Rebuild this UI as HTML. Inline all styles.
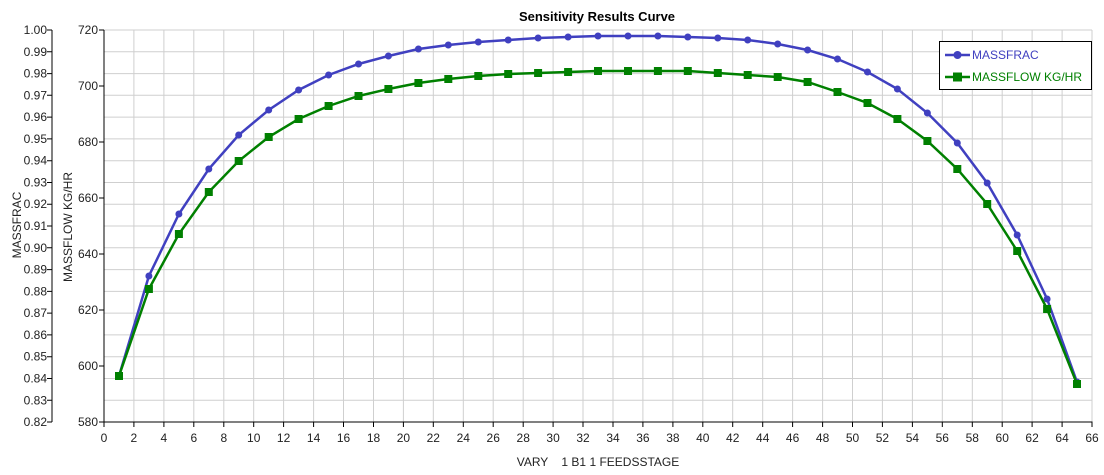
<!DOCTYPE html>
<html><head><meta charset="utf-8"><style>
html,body{margin:0;padding:0;background:#fff;}
svg{display:block;font-family:"Liberation Sans",sans-serif;}
</style></head><body>
<svg width="1104" height="475" viewBox="0 0 1104 475" xmlns="http://www.w3.org/2000/svg">
<rect width="1104" height="475" fill="#fff"/>
<g stroke="#cfcfcf" stroke-width="1">
<line x1="104" y1="30" x2="1092" y2="30"/><line x1="104" y1="51.8" x2="1092" y2="51.8"/><line x1="104" y1="73.6" x2="1092" y2="73.6"/><line x1="104" y1="95.3" x2="1092" y2="95.3"/><line x1="104" y1="117.1" x2="1092" y2="117.1"/><line x1="104" y1="138.9" x2="1092" y2="138.9"/><line x1="104" y1="160.7" x2="1092" y2="160.7"/><line x1="104" y1="182.5" x2="1092" y2="182.5"/><line x1="104" y1="204.2" x2="1092" y2="204.2"/><line x1="104" y1="226" x2="1092" y2="226"/><line x1="104" y1="247.8" x2="1092" y2="247.8"/><line x1="104" y1="269.6" x2="1092" y2="269.6"/><line x1="104" y1="291.4" x2="1092" y2="291.4"/><line x1="104" y1="313.1" x2="1092" y2="313.1"/><line x1="104" y1="334.9" x2="1092" y2="334.9"/><line x1="104" y1="356.7" x2="1092" y2="356.7"/><line x1="104" y1="378.5" x2="1092" y2="378.5"/><line x1="104" y1="400.3" x2="1092" y2="400.3"/>
<line x1="133.9" y1="30" x2="133.9" y2="422"/><line x1="163.9" y1="30" x2="163.9" y2="422"/><line x1="193.8" y1="30" x2="193.8" y2="422"/><line x1="223.8" y1="30" x2="223.8" y2="422"/><line x1="253.7" y1="30" x2="253.7" y2="422"/><line x1="283.6" y1="30" x2="283.6" y2="422"/><line x1="313.6" y1="30" x2="313.6" y2="422"/><line x1="343.5" y1="30" x2="343.5" y2="422"/><line x1="373.5" y1="30" x2="373.5" y2="422"/><line x1="403.4" y1="30" x2="403.4" y2="422"/><line x1="433.3" y1="30" x2="433.3" y2="422"/><line x1="463.3" y1="30" x2="463.3" y2="422"/><line x1="493.2" y1="30" x2="493.2" y2="422"/><line x1="523.2" y1="30" x2="523.2" y2="422"/><line x1="553.1" y1="30" x2="553.1" y2="422"/><line x1="583" y1="30" x2="583" y2="422"/><line x1="613" y1="30" x2="613" y2="422"/><line x1="642.9" y1="30" x2="642.9" y2="422"/><line x1="672.9" y1="30" x2="672.9" y2="422"/><line x1="702.8" y1="30" x2="702.8" y2="422"/><line x1="732.7" y1="30" x2="732.7" y2="422"/><line x1="762.7" y1="30" x2="762.7" y2="422"/><line x1="792.6" y1="30" x2="792.6" y2="422"/><line x1="822.6" y1="30" x2="822.6" y2="422"/><line x1="852.5" y1="30" x2="852.5" y2="422"/><line x1="882.4" y1="30" x2="882.4" y2="422"/><line x1="912.4" y1="30" x2="912.4" y2="422"/><line x1="942.3" y1="30" x2="942.3" y2="422"/><line x1="972.3" y1="30" x2="972.3" y2="422"/><line x1="1002.2" y1="30" x2="1002.2" y2="422"/><line x1="1032.1" y1="30" x2="1032.1" y2="422"/><line x1="1062.1" y1="30" x2="1062.1" y2="422"/><line x1="1092" y1="30" x2="1092" y2="422"/>
</g>
<g stroke="#000" stroke-width="1">
<line x1="104" y1="30" x2="104" y2="422.5"/><line x1="103.5" y1="422" x2="1092.5" y2="422"/>
<line x1="52" y1="30" x2="52" y2="422"/>
</g>
<g stroke="#000" stroke-width="1">
<path d="M47 30H52M47 51.8H52M47 73.6H52M47 95.3H52M47 117.1H52M47 138.9H52M47 160.7H52M47 182.5H52M47 204.2H52M47 226H52M47 247.8H52M47 269.6H52M47 291.4H52M47 313.1H52M47 334.9H52M47 356.7H52M47 378.5H52M47 400.3H52M47 422H52"/>
<path d="M99 30H104M99 86H104M99 142H104M99 198H104M99 254H104M99 310H104M99 366H104M99 422H104"/>
<path d="M104 422V427M133.9 422V427M163.9 422V427M193.8 422V427M223.8 422V427M253.7 422V427M283.6 422V427M313.6 422V427M343.5 422V427M373.5 422V427M403.4 422V427M433.3 422V427M463.3 422V427M493.2 422V427M523.2 422V427M553.1 422V427M583 422V427M613 422V427M642.9 422V427M672.9 422V427M702.8 422V427M732.7 422V427M762.7 422V427M792.6 422V427M822.6 422V427M852.5 422V427M882.4 422V427M912.4 422V427M942.3 422V427M972.3 422V427M1002.2 422V427M1032.1 422V427M1062.1 422V427M1092 422V427"/>
</g>
<g font-size="12" fill="#222" text-anchor="end">
<text x="47" y="34">1.00</text><text x="47" y="55.8">0.99</text><text x="47" y="77.6">0.98</text><text x="47" y="99.3">0.97</text><text x="47" y="121.1">0.96</text><text x="47" y="142.9">0.95</text><text x="47" y="164.7">0.94</text><text x="47" y="186.5">0.93</text><text x="47" y="208.2">0.92</text><text x="47" y="230">0.91</text><text x="47" y="251.8">0.90</text><text x="47" y="273.6">0.89</text><text x="47" y="295.4">0.88</text><text x="47" y="317.1">0.87</text><text x="47" y="338.9">0.86</text><text x="47" y="360.7">0.85</text><text x="47" y="382.5">0.84</text><text x="47" y="404.3">0.83</text><text x="47" y="426">0.82</text>
<text x="98" y="34">720</text><text x="98" y="90">700</text><text x="98" y="146">680</text><text x="98" y="202">660</text><text x="98" y="258">640</text><text x="98" y="314">620</text><text x="98" y="370">600</text><text x="98" y="426">580</text>
</g>
<g font-size="12" fill="#222" text-anchor="middle">
<text x="104" y="442">0</text><text x="133.9" y="442">2</text><text x="163.9" y="442">4</text><text x="193.8" y="442">6</text><text x="223.8" y="442">8</text><text x="253.7" y="442">10</text><text x="283.6" y="442">12</text><text x="313.6" y="442">14</text><text x="343.5" y="442">16</text><text x="373.5" y="442">18</text><text x="403.4" y="442">20</text><text x="433.3" y="442">22</text><text x="463.3" y="442">24</text><text x="493.2" y="442">26</text><text x="523.2" y="442">28</text><text x="553.1" y="442">30</text><text x="583" y="442">32</text><text x="613" y="442">34</text><text x="642.9" y="442">36</text><text x="672.9" y="442">38</text><text x="702.8" y="442">40</text><text x="732.7" y="442">42</text><text x="762.7" y="442">44</text><text x="792.6" y="442">46</text><text x="822.6" y="442">48</text><text x="852.5" y="442">50</text><text x="882.4" y="442">52</text><text x="912.4" y="442">54</text><text x="942.3" y="442">56</text><text x="972.3" y="442">58</text><text x="1002.2" y="442">60</text><text x="1032.1" y="442">62</text><text x="1062.1" y="442">64</text><text x="1092" y="442">66</text>
<text x="598" y="466" xml:space="preserve">VARY    1 B1 1 FEEDSSTAGE</text>
<text x="597" y="21" font-weight="bold" font-size="13" fill="#000">Sensitivity Results Curve</text>
<text transform="translate(21,225) rotate(-90)">MASSFRAC</text>
<text transform="translate(72,227) rotate(-90)">MASSFLOW KG/HR</text>
</g>
<polyline fill="none" stroke="#4040c0" stroke-width="2.5" points="119,376 148.9,276 178.9,214 208.8,169 238.7,135 268.7,110 298.6,90 328.6,75 358.5,64 388.4,56 418.4,49 448.3,45 478.3,42 508.2,40 538.1,38 568.1,37 598,36 628,36 657.9,36 687.8,37 717.8,38 747.7,40 777.7,44 807.6,50 837.5,59 867.5,72 897.4,89 927.4,113 957.3,143 987.2,183 1017.2,235 1047.1,299 1077,382"/>
<g fill="#4040c0">
<circle cx="119" cy="376" r="3.5"/><circle cx="148.9" cy="276" r="3.5"/><circle cx="178.9" cy="214" r="3.5"/><circle cx="208.8" cy="169" r="3.5"/><circle cx="238.7" cy="135" r="3.5"/><circle cx="268.7" cy="110" r="3.5"/><circle cx="298.6" cy="90" r="3.5"/><circle cx="328.6" cy="75" r="3.5"/><circle cx="358.5" cy="64" r="3.5"/><circle cx="388.4" cy="56" r="3.5"/><circle cx="418.4" cy="49" r="3.5"/><circle cx="448.3" cy="45" r="3.5"/><circle cx="478.3" cy="42" r="3.5"/><circle cx="508.2" cy="40" r="3.5"/><circle cx="538.1" cy="38" r="3.5"/><circle cx="568.1" cy="37" r="3.5"/><circle cx="598" cy="36" r="3.5"/><circle cx="628" cy="36" r="3.5"/><circle cx="657.9" cy="36" r="3.5"/><circle cx="687.8" cy="37" r="3.5"/><circle cx="717.8" cy="38" r="3.5"/><circle cx="747.7" cy="40" r="3.5"/><circle cx="777.7" cy="44" r="3.5"/><circle cx="807.6" cy="50" r="3.5"/><circle cx="837.5" cy="59" r="3.5"/><circle cx="867.5" cy="72" r="3.5"/><circle cx="897.4" cy="89" r="3.5"/><circle cx="927.4" cy="113" r="3.5"/><circle cx="957.3" cy="143" r="3.5"/><circle cx="987.2" cy="183" r="3.5"/><circle cx="1017.2" cy="235" r="3.5"/><circle cx="1047.1" cy="299" r="3.5"/><circle cx="1077" cy="382" r="3.5"/>
</g>
<polyline fill="none" stroke="#008000" stroke-width="2.5" points="119,376 148.9,289 178.9,234 208.8,192 238.7,161 268.7,137 298.6,119 328.6,106 358.5,96 388.4,89 418.4,83 448.3,79 478.3,76 508.2,74 538.1,73 568.1,72 598,71 628,71 657.9,71 687.8,71 717.8,73 747.7,75 777.7,77 807.6,82 837.5,92 867.5,103 897.4,119 927.4,141 957.3,169 987.2,204 1017.2,251 1047.1,309 1077,384"/>
<g fill="#008000">
<rect x="115" y="372" width="8" height="8"/><rect x="144.9" y="285" width="8" height="8"/><rect x="174.9" y="230" width="8" height="8"/><rect x="204.8" y="188" width="8" height="8"/><rect x="234.7" y="157" width="8" height="8"/><rect x="264.7" y="133" width="8" height="8"/><rect x="294.6" y="115" width="8" height="8"/><rect x="324.6" y="102" width="8" height="8"/><rect x="354.5" y="92" width="8" height="8"/><rect x="384.4" y="85" width="8" height="8"/><rect x="414.4" y="79" width="8" height="8"/><rect x="444.3" y="75" width="8" height="8"/><rect x="474.3" y="72" width="8" height="8"/><rect x="504.2" y="70" width="8" height="8"/><rect x="534.1" y="69" width="8" height="8"/><rect x="564.1" y="68" width="8" height="8"/><rect x="594" y="67" width="8" height="8"/><rect x="624" y="67" width="8" height="8"/><rect x="653.9" y="67" width="8" height="8"/><rect x="683.8" y="67" width="8" height="8"/><rect x="713.8" y="69" width="8" height="8"/><rect x="743.7" y="71" width="8" height="8"/><rect x="773.7" y="73" width="8" height="8"/><rect x="803.6" y="78" width="8" height="8"/><rect x="833.5" y="88" width="8" height="8"/><rect x="863.5" y="99" width="8" height="8"/><rect x="893.4" y="115" width="8" height="8"/><rect x="923.4" y="137" width="8" height="8"/><rect x="953.3" y="165" width="8" height="8"/><rect x="983.2" y="200" width="8" height="8"/><rect x="1013.2" y="247" width="8" height="8"/><rect x="1043.1" y="305" width="8" height="8"/><rect x="1073" y="380" width="8" height="8"/>
</g>
<rect x="939.5" y="41.5" width="152" height="48" fill="#fff" stroke="#000" stroke-width="1"/>
<line x1="945" y1="55" x2="970" y2="55" stroke="#4040c0" stroke-width="2.5"/>
<circle cx="957.5" cy="55" r="4" fill="#4040c0"/>
<line x1="945" y1="77" x2="970" y2="77" stroke="#008000" stroke-width="2.5"/>
<rect x="953" y="72.5" width="9" height="9" fill="#008000"/>
<text x="972" y="59" font-size="12" fill="#4040c0">MASSFRAC</text>
<text x="972" y="81" font-size="12" fill="#008000">MASSFLOW KG/HR</text>
</svg>
</body></html>
